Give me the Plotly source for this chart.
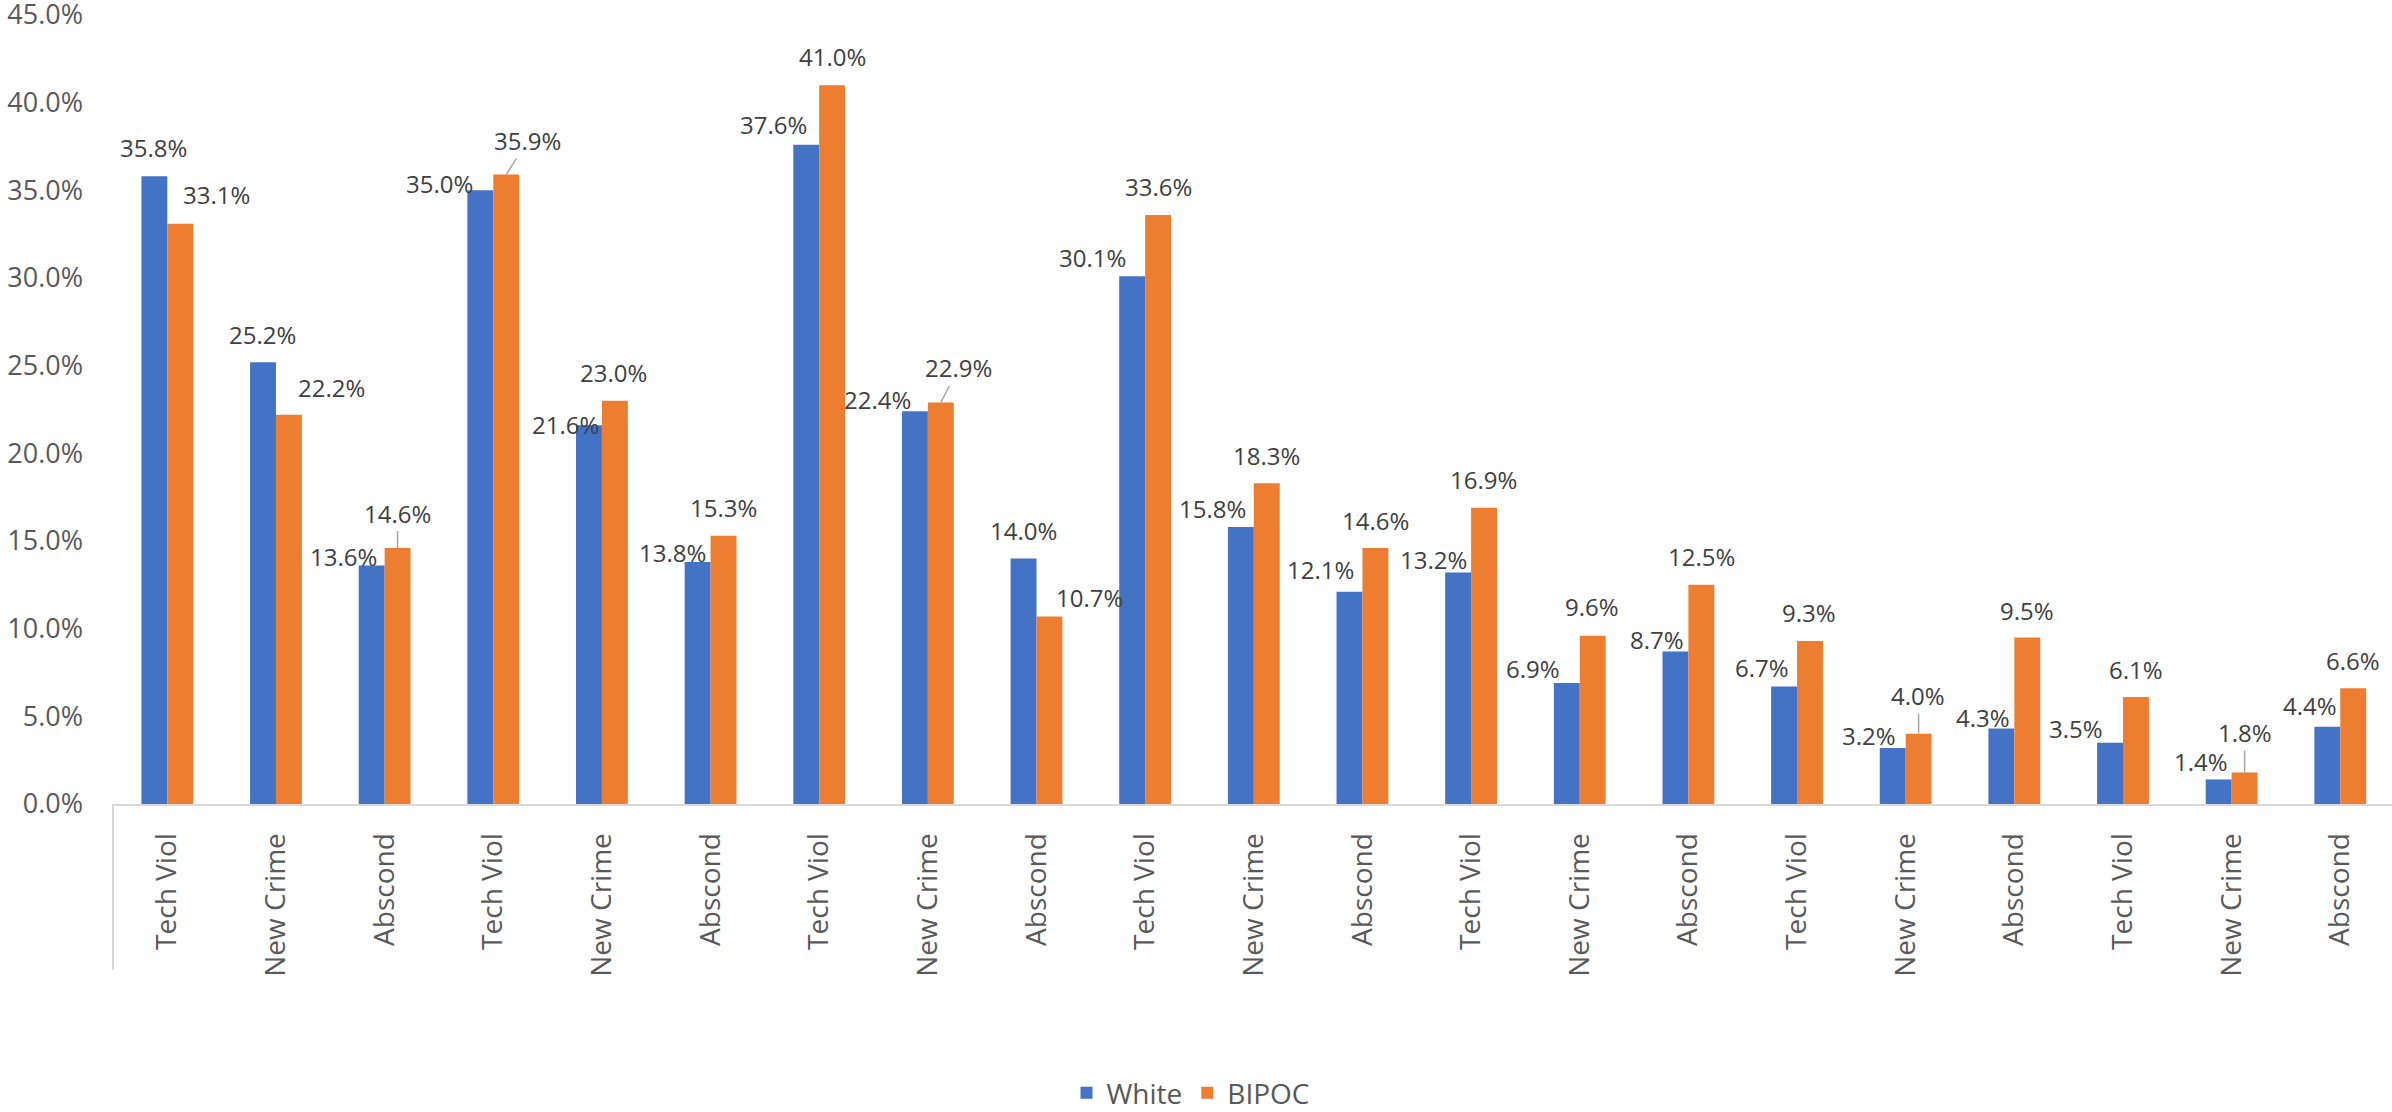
import plotly.graph_objects as go

categories = ["Tech Viol", "New Crime", "Abscond",
              "Tech Viol", "New Crime", "Abscond",
              "Tech Viol", "New Crime", "Abscond",
              "Tech Viol", "New Crime", "Abscond",
              "Tech Viol", "New Crime", "Abscond",
              "Tech Viol", "New Crime", "Abscond",
              "Tech Viol", "New Crime", "Abscond"]

white = [35.8, 25.2, 13.6, 35.0, 21.6, 13.8, 37.6, 22.4, 14.0, 30.1, 15.8,
         12.1, 13.2, 6.9, 8.7, 6.7, 3.2, 4.3, 3.5, 1.4, 4.4]
bipoc = [33.1, 22.2, 14.6, 35.9, 23.0, 15.3, 41.0, 22.9, 10.7, 33.6, 18.3,
         14.6, 16.9, 9.6, 12.5, 9.3, 4.0, 9.5, 6.1, 1.8, 6.6]

y_ticks = [0, 5, 10, 15, 20, 25, 30, 35, 40, 45]

# label placement (pixels, relative to category centre / bar top) - styling only
white_dx = [-13.4, -13.5, -41, -54, -36, -38, -46, -50, -13, -53, -41.6,
            -42, -38, -46.4, -31, -35.4, -37, -31, -47.3, -31, -30]
white_dy = [-28.7, -28, -8.6, -7, -0.6, -10, -20, -12, -28, -18.6, -18.5,
            -22, -13, -14.3, -11.7, -19, -12, -11.3, -14, -18, -21.7]
bipoc_dx = [49, 56, 13, 34.5, 12, 13, 13, 30.6, 53, 13, 12.4,
            13, 12.6, 12.5, 13, 12, 12.8, 12.5, 12.7, 13, 13]
bipoc_dy = [-29, -27, -35, -34, -28, -28.5, -28.4, -34.5, -19, -28.7, -28,
            -28, -28.6, -29, -28, -28, -38, -27, -28, -40, -28]
bipoc_leader = {2, 3, 7, 16, 19}

BLUE = "#4472C4"
ORANGE = "#ED7D31"
FONT = "Open Sans"
BARGAP = 0.523

x = list(range(len(categories)))

fig = go.Figure()
fig.add_trace(go.Bar(name="White", x=x, y=white, marker_color=BLUE,
                     marker_line_width=0, hoverinfo="skip"))
fig.add_trace(go.Bar(name="BIPOC", x=x, y=bipoc, marker_color=ORANGE,
                     marker_line_width=0, hoverinfo="skip"))

half_bar = (1 - BARGAP) / 4  # in category units
cat_px = 2279 / 20.976
hb_px = half_bar * cat_px

annots = []
lab_font = dict(family=FONT, size=24, color="#404040")
for i in x:
    annots.append(dict(x=i, y=white[i], xref="x", yref="y",
                       text=f"{white[i]:.1f}%", showarrow=False,
                       xshift=white_dx[i], yshift=-white_dy[i],
                       xanchor="center", yanchor="middle", font=lab_font))
    if i in bipoc_leader:
        annots.append(dict(x=i, y=bipoc[i], xref="x", yref="y",
                           text=f"{bipoc[i]:.1f}%", showarrow=True,
                           arrowhead=0, arrowwidth=1.5, arrowcolor="#A6A6A6",
                           ax=bipoc_dx[i] - hb_px, ay=bipoc_dy[i],
                           xshift=hb_px, standoff=0,
                           xanchor="center", yanchor="middle", font=lab_font))
    else:
        annots.append(dict(x=i, y=bipoc[i], xref="x", yref="y",
                           text=f"{bipoc[i]:.1f}%", showarrow=False,
                           xshift=bipoc_dx[i], yshift=-bipoc_dy[i],
                           xanchor="center", yanchor="middle", font=lab_font))

fig.update_layout(
    width=2392, height=1112,
    margin=dict(l=113, r=0, t=15, b=308, autoexpand=False),
    paper_bgcolor="white", plot_bgcolor="white",
    barmode="group", bargap=BARGAP, bargroupgap=0,
    font=dict(family=FONT, color="#595959"),
    annotations=annots,
    showlegend=True,
    legend=dict(orientation="h", x=0.4728, xanchor="center", y=-0.3663,
                yanchor="middle", font=dict(family=FONT, size=28, color="#595959"),
                itemclick=False, itemdoubleclick=False),
    shapes=[dict(type="line", xref="paper", yref="paper", x0=0, x1=0,
                 y0=0, y1=-0.2104, line=dict(color="#D9D9D9", width=2))],
)

fig.update_xaxes(
    range=[-0.5, 20.476], tickmode="array", tickvals=x, ticktext=categories,
    tickangle=-90, tickfont=dict(family=FONT, size=28, color="#595959"),
    showgrid=False, zeroline=False, showline=True, linecolor="#D9D9D9",
    linewidth=2, ticks="", ticklabelstandoff=16, automargin=False,
)
fig.update_yaxes(
    range=[0, 45], tickmode="array", tickvals=y_ticks,
    ticktext=[f"{v:.1f}%" for v in y_ticks],
    tickfont=dict(family=FONT, size=27, color="#595959"),
    showgrid=False, zeroline=False, showline=False, ticks="",
    ticklabelstandoff=29, automargin=False, ticklabeloverflow="allow",
)

fig.write_html("out.html",
               config={"displayModeBar": False},
               post_script="document.body.style.margin='0';"
                           "document.body.style.overflow='hidden';")
